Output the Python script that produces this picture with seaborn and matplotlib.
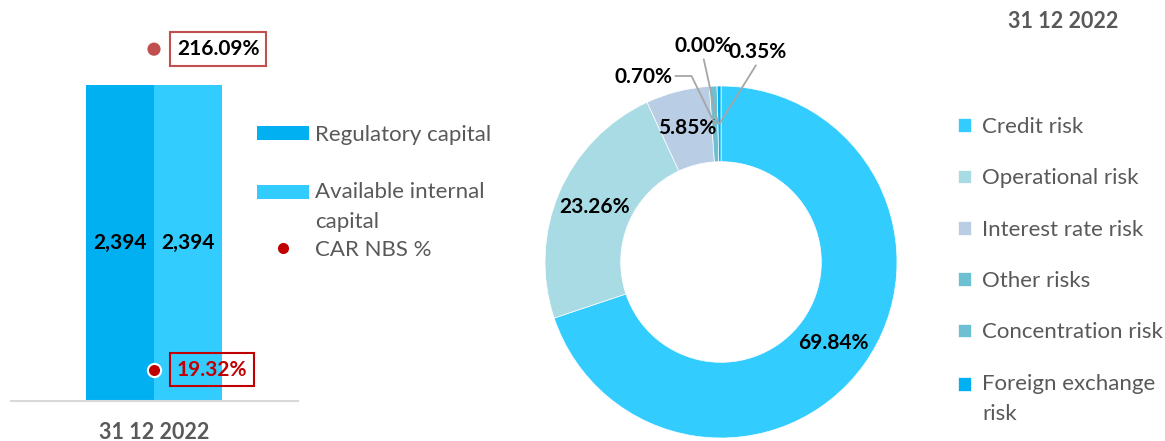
import textwrap
import matplotlib
matplotlib.use("Agg")
import matplotlib.pyplot as plt
import numpy as np
import pandas as pd
import seaborn as sns
from matplotlib.lines import Line2D
from matplotlib.patches import Rectangle
from matplotlib.legend_handler import HandlerPatch

# ---------------- data ----------------
period = ["31 12 2022"]
capital_series = ["Regulatory capital", "Available internal capital"]
capital_values = [2394, 2394]
car_nbs = [19.32]          # CAR NBS %
internal_ratio = [216.09]  # second ratio shown above bars
risk_types = ["Credit risk", "Operational risk", "Interest rate risk",
              "Other risks", "Concentration risk", "Foreign exchange risk"]
risk_shares = [69.84, 23.26, 5.85, 0.70, 0.00, 0.35]

# ---------------- style ----------------
sns.set_theme(style="white")
plt.rcParams['font.family'] = ['Lato', 'DejaVu Sans']
GREY = "#595959"
FS = 15      # bold numbers
LFS = 16     # legend text
LSP = 1.65   # line spacing of wrapped legend labels
bar_colors = ["#00B0F0", "#33CCFF"]
risk_colors = ["#33CCFF", "#A9DBE4", "#B9CDE5", "#6DC0D2", "#6DC0D2", "#00B0F0"]

W, H = 1165, 441
fig = plt.figure(figsize=(W / 100, H / 100), dpi=100)


def fx(px):
    return px / W


def fy(py):
    return 1 - py / H


def shifted_rect(shift_pt):
    def f(legend, orig_handle, xdescent, ydescent, width, height, fontsize):
        return Rectangle((-xdescent, -ydescent + shift_pt), width, height)
    return f


# ---------------- left: bars ----------------
ax = fig.add_axes([fx(11), fy(401), fx(298) - fx(11), fy(20) - fy(401)])
df = pd.DataFrame({"period": period * len(capital_series),
                   "series": capital_series,
                   "value": capital_values})
sns.barplot(data=df, x="period", y="value", hue="series", palette=bar_colors,
            saturation=1, width=0.8, ax=ax, legend=True, linewidth=0,
            edgecolor="none")
for c in ax.containers:
    ax.bar_label(c, labels=[f"{v:,.0f}" for v in c.datavalues], label_type="center",
                 fontsize=FS, fontweight="bold", color="black")
bar_handles, _ = ax.get_legend_handles_labels()
if ax.get_legend() is not None:
    ax.get_legend().remove()
ax.set_ylim(0, max(capital_values) * 1.206)
ax.set_xlim(-0.841, 0.847)
ax.set_xlabel("")
ax.set_ylabel("")
ax.set_yticks([])
ax.tick_params(axis="x", length=0, pad=15, labelsize=15.5, labelcolor=GREY)
for lbl in ax.get_xticklabels():
    lbl.set_fontweight("bold")
for s in ["left", "right", "top"]:
    ax.spines[s].set_visible(False)
ax.spines["bottom"].set_color("#D9D9D9")
ax.spines["bottom"].set_linewidth(1.5)

ax2 = ax.twinx()
ax2.set_ylim(0, 234)
ax2.set_yticks([])
for s in ax2.spines.values():
    s.set_visible(False)
ax2.scatter([0] * len(internal_ratio), internal_ratio, s=90, color="#C0504D",
            edgecolor="none", zorder=5)
ax2.scatter([0] * len(car_nbs), car_nbs, s=90, color="#C00000",
            edgecolor="white", linewidth=1.5, zorder=5)
for v in internal_ratio:
    ax2.annotate(f"{v:.2f}%", xy=(0, v), xytext=(23, 0), textcoords="offset pixels",
                 ha="left", va="center", fontsize=FS, fontweight="bold", color="black",
                 bbox=dict(boxstyle="square,pad=0.32", fc="white", ec="#C0504D", lw=1.5))
for v in car_nbs:
    ax2.annotate(f"{v:.2f}%", xy=(0, v), xytext=(23, 0), textcoords="offset pixels",
                 ha="left", va="center", fontsize=FS, fontweight="bold", color="#C00000",
                 bbox=dict(boxstyle="square,pad=0.32", fc="none", ec="#C00000", lw=1.5))

leg_a = fig.legend(bar_handles, [textwrap.fill(s, 18) for s in capital_series],
                   loc="upper left", bbox_to_anchor=(fx(257), fy(125)),
                   frameon=False, fontsize=LFS, handlelength=2.34, handleheight=0.59,
                   handletextpad=0.27, labelspacing=1.65, borderpad=0, borderaxespad=0,
                   labelcolor=GREY,
                   handler_map={bar_handles[1]: HandlerPatch(patch_func=shifted_rect(10.6))})
for t in leg_a.get_texts():
    t.set_linespacing(LSP)
car_handle = Line2D([], [], marker="o", linestyle="none", markersize=8,
                    markerfacecolor="#C00000", markeredgecolor="none")
leg_b = fig.legend([car_handle], ["CAR NBS %"], loc="upper left",
                   bbox_to_anchor=(fx(257), fy(240)), frameon=False, fontsize=LFS,
                   handlelength=2.34, handletextpad=0.27, borderpad=0, borderaxespad=0,
                   labelcolor=GREY)

# ---------------- right: donut ----------------
R_PX = 176
CX, CY = 721, 262
pax = fig.add_axes([fx(CX - R_PX), fy(CY + R_PX), 2 * R_PX / W, 2 * R_PX / H])
ring = 0.43
wedges, _ = pax.pie(risk_shares, colors=risk_colors, startangle=90, counterclock=False,
                    radius=1, wedgeprops=dict(width=ring, edgecolor="white", linewidth=0.5))
pax.set_xlim(-1, 1)
pax.set_ylim(-1, 1)
pax.set_aspect("equal")
pax.axis("off")

r_mid = 1 - ring / 2
small_label_pos = {3: (-0.443, 1.051), 4: (-0.102, 1.227), 5: (0.210, 1.193)}
for i, (w, v) in enumerate(zip(wedges, risk_shares)):
    ang = np.deg2rad((w.theta1 + w.theta2) / 2)
    mx, my = r_mid * np.cos(ang), r_mid * np.sin(ang)
    txt = f"{v:.2f}%"
    if i in small_label_pos:
        if i == 3:
            ap = dict(arrowstyle="-", color="#A6A6A6", lw=1.3, relpos=(1, 0.55),
                      connectionstyle="angle,angleA=0,angleB=-64,rad=0",
                      shrinkA=0, shrinkB=0)
        else:
            ap = dict(arrowstyle="-", color="#A6A6A6", lw=1.3, relpos=(0.5, 0),
                      shrinkA=0, shrinkB=0)
        pax.annotate(txt, xy=(mx, my), xytext=small_label_pos[i], ha="center",
                     va="center", fontsize=FS, fontweight="bold", color="black",
                     arrowprops=ap, annotation_clip=False)
    else:
        pax.text(mx, my, txt, ha="center", va="center", fontsize=FS,
                 fontweight="bold", color="black")

leg_c = fig.legend(wedges, [textwrap.fill(s, 18) for s in risk_types],
                   loc="upper left", bbox_to_anchor=(fx(958), fy(117)),
                   frameon=False, fontsize=LFS, handlelength=0.59, handleheight=0.59,
                   handletextpad=0.5, labelspacing=1.41, borderpad=0, borderaxespad=0,
                   labelcolor=GREY,
                   handler_map={wedges[5]: HandlerPatch(patch_func=shifted_rect(10.6))})
for t in leg_c.get_texts():
    t.set_linespacing(LSP)

fig.text(fx(1063), fy(22), period[0], ha="center", va="center", fontsize=15.5,
         fontweight="bold", color=GREY)

fig.savefig("out.png", dpi=100)
